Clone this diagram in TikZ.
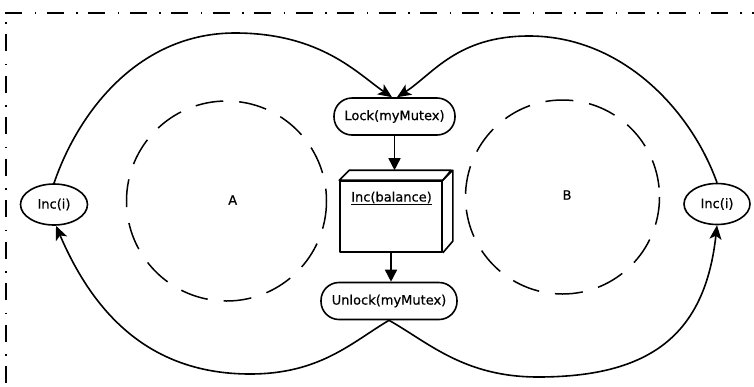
\documentclass[tikz,border=0pt]{standalone}
\usepackage{fontspec}
\setmainfont{DejaVu Sans}[FakeBold=0.6]
\usetikzlibrary{arrows.meta,shapes.geometric}
\begin{document}
\begin{tikzpicture}[x=1pt,y=-1pt,
  every node/.style={font=\fontsize{13pt}{15pt}\selectfont},
  pill/.style={draw, line width=1.6pt, rounded corners=18pt, minimum height=37pt, inner sep=0pt},
  oval/.style={draw, ellipse, line width=1.6pt, minimum width=67pt, minimum height=41pt, inner sep=0pt},
  cube/.style={draw, line width=1.6pt, line join=round, minimum width=102pt, minimum height=71pt, inner sep=0pt},
  flow/.style={line width=1.6pt, -{Triangle[length=12pt,width=12pt]}},
  loop/.style={line width=1.6pt, -{Stealth[length=14pt,width=12pt,inset=3.5pt]}},
  region/.style={line width=1.5pt, dash pattern=on 28pt off 16pt},
  framedash/.style={line width=1.6pt, dash pattern=on 17pt off 12.5pt on 1.5pt off 10.5pt},
]
\useasboundingbox (0,0) rectangle (754,386);

% frame edges
\draw[framedash] (5,13) -- (754,13);
\draw[framedash, dash phase=20.5pt] (6,13) -- (6,386);

% dashed regions
\draw[region] (226.5,201) circle[radius=100];
\draw[region] (562.5,197) circle[radius=97];
\node (labA) at (232.7,200) {A};
\node (labB) at (567,195) {B};

% critical section
\node[pill, minimum width=121pt] (lock) at (394.5,116.5) {Lock(myMutex)};
\node[cube] (inc) at (391,216.5) {};
\draw[line width=1.6pt, line join=round] (inc.north west) -- ++(10,-10) -- ++(102,0) -- (inc.north east) -- cycle;
\draw[line width=1.6pt, line join=round] (inc.north east) -- ++(10,-10) -- ++(0,71) -- (inc.south east);
\node[anchor=base] (inclabel) at (391.5,201.5) {\underline{Inc(balance)}};
\coordinate (inctop) at ([yshift=10pt]inc.north);
\node[pill, minimum width=136pt] (unlock) at (389,301) {Unlock(myMutex)};

% side operations
\node[oval] (incL) at (54,204.5) {Inc(i)};
\node[oval, minimum width=66pt] (incR) at (717,204) {Inc(i)};

% straight flow
\draw[flow] (lock.south) -- (lock.south |- inctop);
\draw[flow] (inc.south) -- (inc.south |- unlock.north);

% loops
\draw[loop] (incL.north) .. controls (79,110) and (140,33) .. (235,33)
  .. controls (321,33) and (358,74) .. ([xshift=-2.5pt]lock.north);
\draw[loop] (incR.north) .. controls (691,110) and (622,36) .. (529,36)
  .. controls (457,36) and (432.6,74.4) .. ([xshift=2.5pt]lock.north);
\draw[loop] (unlock.south) .. controls (351.6,342.5) and (320,374) .. (250,374)
  .. controls (143,374) and (90,305) .. ([xshift=2pt]incL.south);
\draw[loop] (unlock.south) .. controls (428.4,342.5) and (464,377) .. (538,377)
  .. controls (650,377) and (705,335) .. (incR.south);
\end{tikzpicture}
\end{document}
